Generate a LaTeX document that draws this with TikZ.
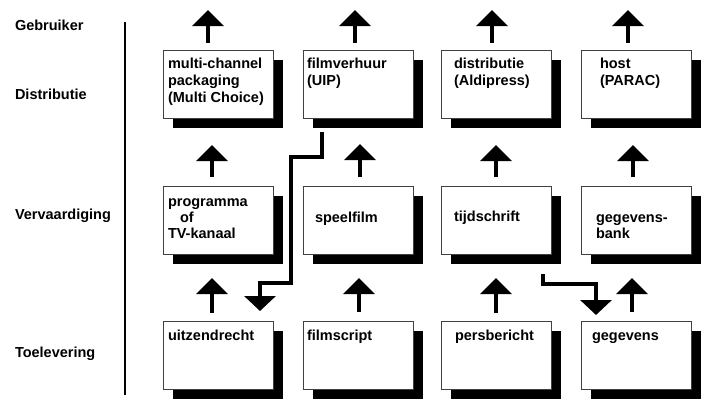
\documentclass[tikz,border=0pt]{standalone}
\usepackage{fontspec}
\setmainfont{Liberation Sans}
\usetikzlibrary{arrows.meta}
\newcommand\linestack[2]{\vtop{\baselineskip=#1pt\lineskiplimit=-30pt\relax #2}}
\begin{document}
\begin{tikzpicture}[x=1pt,y=-1pt,
  lbl/.style={font=\bfseries\fontsize{14.5}{17}\selectfont, anchor=base west, inner sep=0pt, outer sep=0pt},
  boxtxt/.style={font=\bfseries\fontsize{14.5}{17}\selectfont, anchor=base west, inner sep=0pt, outer sep=0pt},
  panel/.style={draw=black!75, line width=0.7pt, fill=white, minimum width=110pt, minimum height=68pt, anchor=north west, inner sep=0pt, outer sep=0pt},
  shade/.style={fill=black},
  upflow/.style={line width=4.5pt, -{Triangle[width=31pt,length=16pt]}},
  bentflow/.style={line width=3.5pt, line join=miter, -{Triangle[width=31pt,length=15pt]}}]
\useasboundingbox (0,0) rectangle (704,400);

% left axis
\coordinate (axtop) at (125,22);
\coordinate (axbot) at (125,395);
\draw[line width=1.3pt, black] (axtop) -- (axbot);
\node[lbl] (lgeb) at (15,30) {Gebruiker};
\node[lbl] (ldis) at (15,99) {Distributie};
\node[lbl] (lver) at (15,219) {Vervaardiging};
\node[lbl] (ltoe) at (15,357) {Toelevering};

% shadows
\foreach \bx/\by in {163/50,303/50,441/50,581/50,163/186,303/186,441/186,581/186,163/321,303/321,441/321,581/321}{
  \fill[shade] (\bx+10,\by+10) rectangle ++(110,68);
}

% boxes row 1
\node[panel] (d1) at (163,50) {};
\node[panel] (d2) at (303,50) {};
\node[panel] (d3) at (441,50) {};
\node[panel] (d4) at (581,50) {};
% boxes row 2
\node[panel] (v1) at (163,186) {};
\node[panel] (v2) at (303,186) {};
\node[panel] (v3) at (441,186) {};
\node[panel] (v4) at (581,186) {};
% boxes row 3
\node[panel] (t1) at (163,321) {};
\node[panel] (t2) at (303,321) {};
\node[panel] (t3) at (441,321) {};
\node[panel] (t4) at (581,321) {};

% texts row 1
\node[boxtxt] (d1t) at (168,68) {\linestack{17}{\hbox{multi-channel}\hbox{packaging}\hbox{(Multi Choice)}}};
\node[boxtxt] (d2t) at (307,68) {\linestack{17}{\hbox{filmverhuur}\hbox{(UIP)}}};
\node[boxtxt] (d3t) at (454,68) {\linestack{17}{\hbox{distributie}\hbox{(Aldipress)}}};
\node[boxtxt] (d4t) at (600,68) {\linestack{17}{\hbox{host}\hbox{(PARAC)}}};
% texts row 2
\node[boxtxt] (v1t) at (168,206) {\linestack{16}{\hbox{programma}\hbox{\hspace{12pt}of}\hbox{TV-kanaal}}};
\node[boxtxt] (v2t) at (315,222) {speelfilm};
\node[boxtxt] (v3t) at (454,221) {tijdschrift};
\node[boxtxt] (v4t) at (596,222) {\linestack{16}{\hbox{gegevens-}\hbox{bank}}};
% texts row 3
\node[boxtxt] (t1t) at (168,340) {uitzendrecht};
\node[boxtxt] (t2t) at (307,340) {filmscript};
\node[boxtxt] (t3t) at (455,340) {persbericht};
\node[boxtxt] (t4t) at (592,340) {gegevens};

% upward arrows
\foreach \n/\ax/\sy/\ey in {a1/208/43/10, a2/355/43/10, a3/492/43/10, a4/628/43/10,
                             b1/212/177/145, b2/360/177/144, b3/496/177/145, b4/633/177/145,
                             c1/212/313/278, c2/359/312/278, c3/496/313/278, c4/632/312/278}{
  \coordinate (\n s) at (\ax,\sy);
  \coordinate (\n e) at (\ax,\ey);
  \draw[upflow] (\n s) -- (\n e);
}

% bent arrows
\coordinate (f1s) at (322,132);
\coordinate (f1e) at (260,311);
\draw[bentflow] (f1s) -- (322,157) -- (291,157) -- (291,283) -- (260,283) -- (f1e);
\coordinate (f2s) at (543,274);
\coordinate (f2e) at (596,315);
\draw[bentflow] (f2s) -- (543,284) -- (596,284) -- (f2e);
\end{tikzpicture}
\end{document}
